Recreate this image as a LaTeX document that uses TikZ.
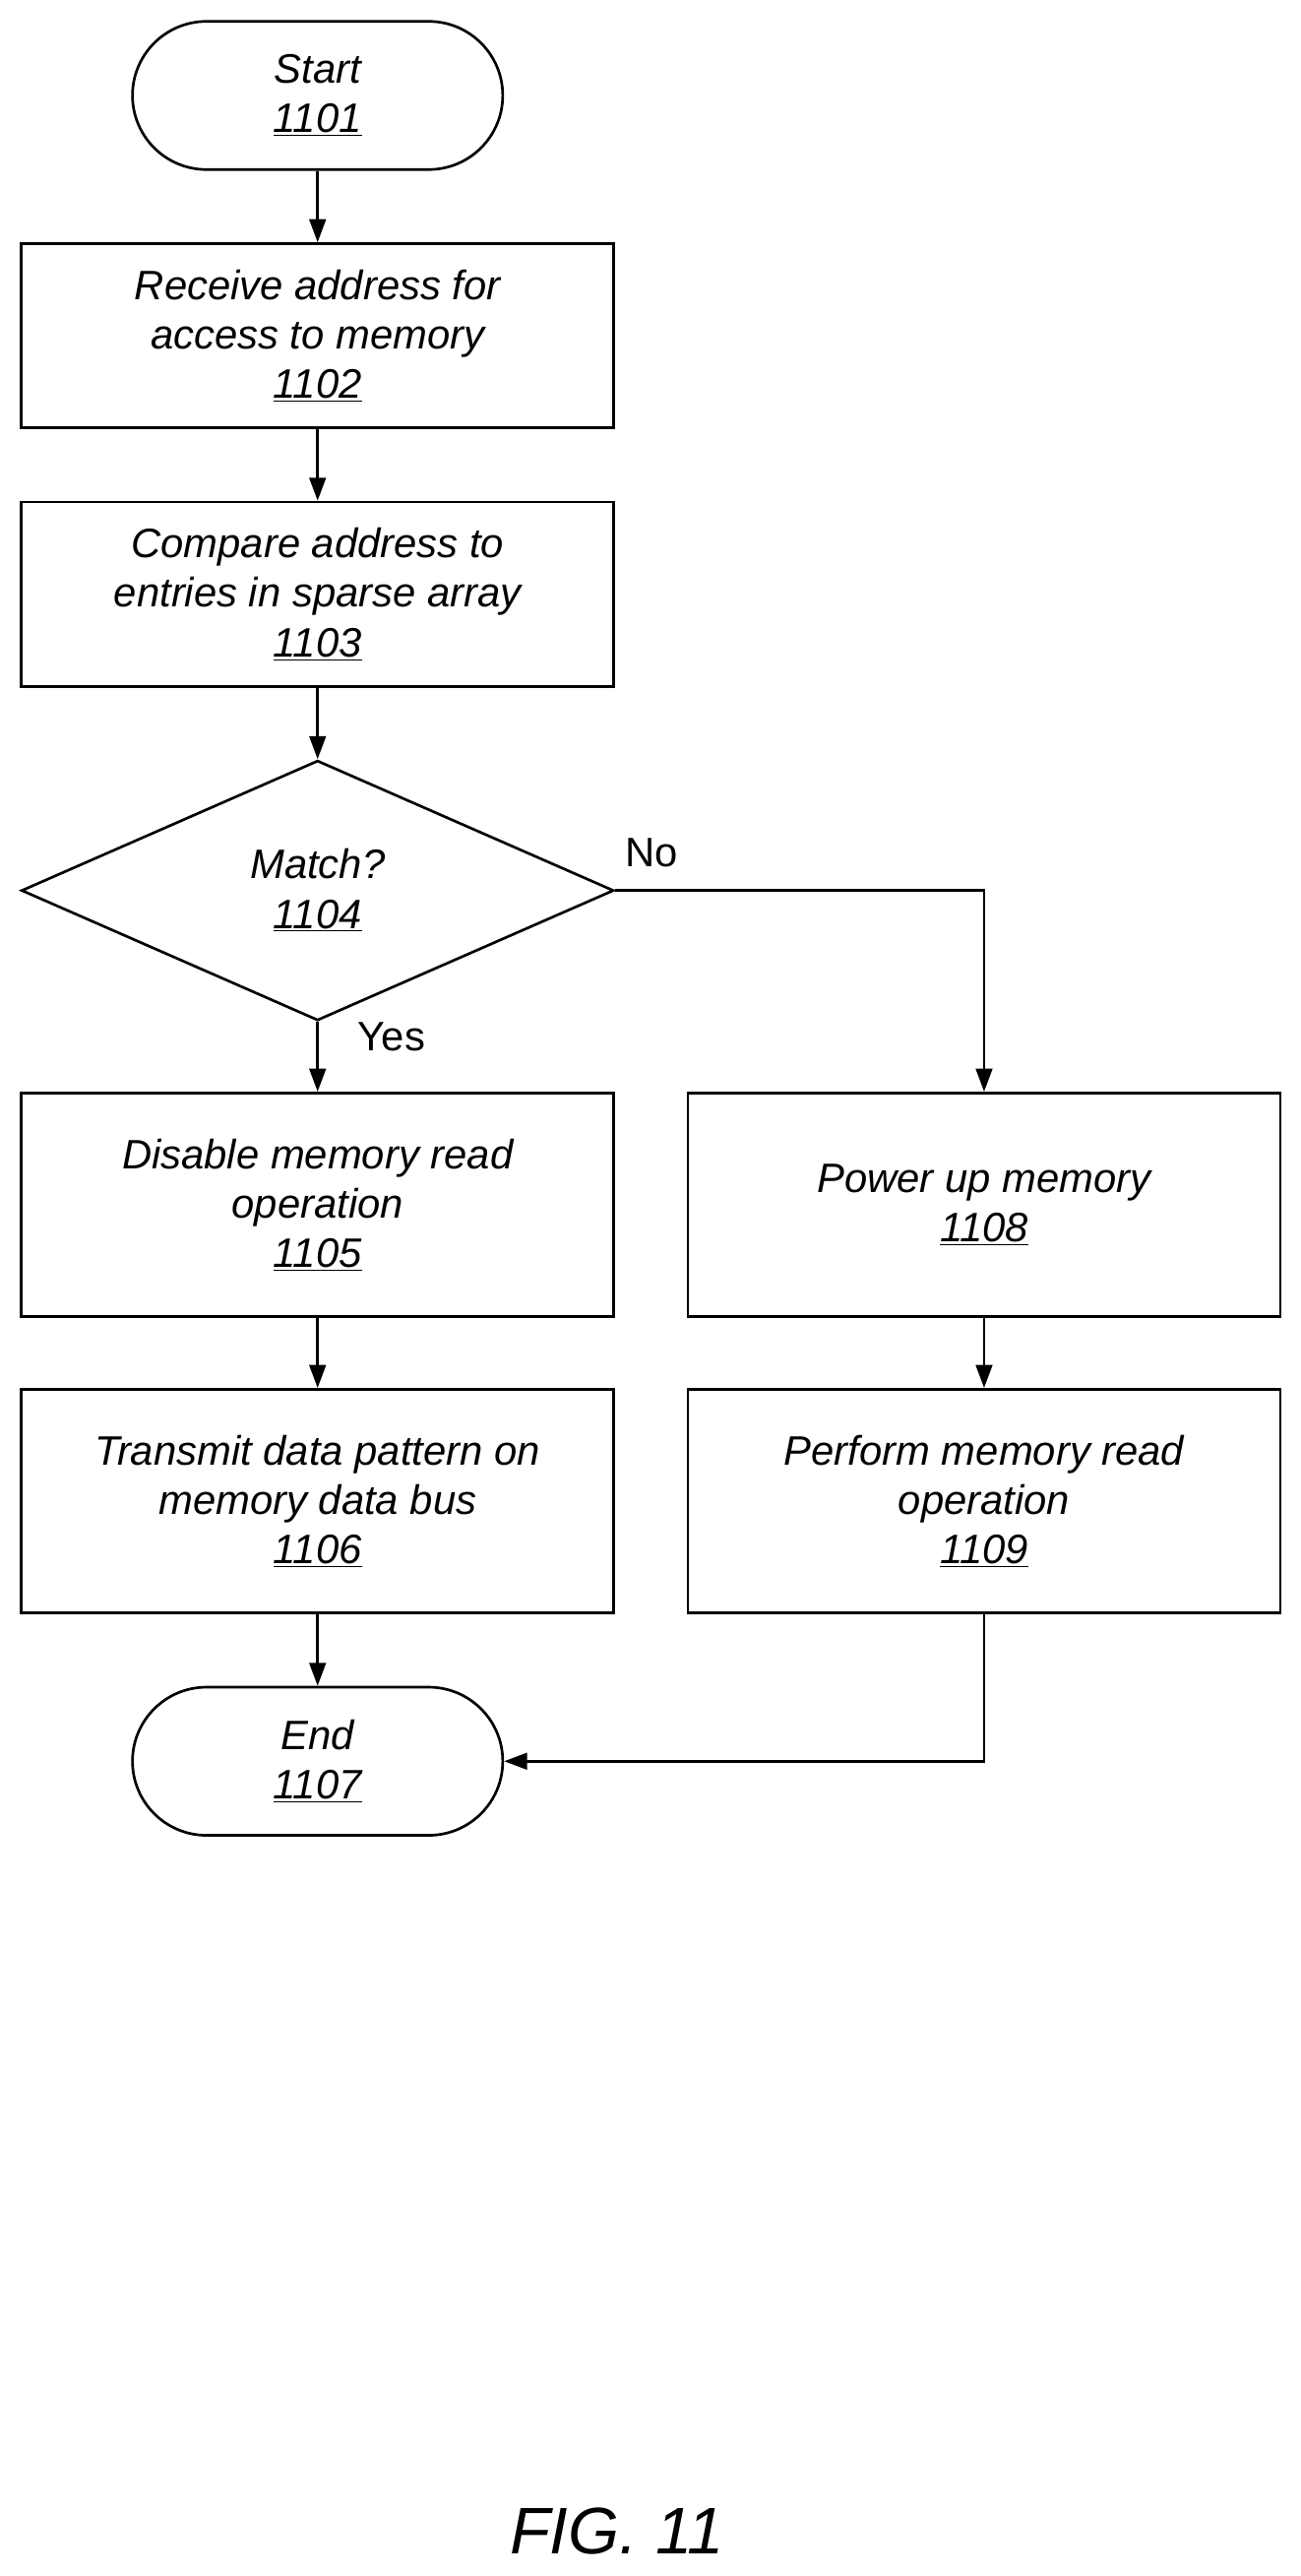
\documentclass[tikz,border=0pt]{standalone}
\usepackage{fontspec}
\setmainfont{Liberation Sans}
\usetikzlibrary{shapes.geometric,arrows.meta}
\begin{document}
\begin{tikzpicture}[x=1pt,y=-1pt,
  box/.style={draw,line width=1.6pt,minimum width=360pt,minimum height=112pt,align=center,font=\fontsize{25}{30}\selectfont\itshape,inner sep=0pt},
  term/.style={draw,line width=1.6pt,rounded corners=45pt,minimum width=225pt,minimum height=90pt,align=center,font=\fontsize{25}{30}\selectfont\itshape,inner sep=0pt},
  dia/.style={draw,line width=1.6pt,diamond,aspect=2.28,minimum width=360pt,minimum height=158pt,align=center,font=\fontsize{25}{30}\selectfont\itshape,inner sep=0pt},
  lab/.style={font=\fontsize{25}{30}\selectfont},
  arr/.style={line width=1.6pt,-{Triangle[length=14pt,width=10pt]}}]
\useasboundingbox (0,0) rectangle (790,1565);
\node[term] (s) at (193,58) {Start\\\underline{1101}};
\node[box] (b2) at (193,204) {Receive address for\\access to memory\\\underline{1102}};
\node[box] (b3) at (193,361) {Compare address to\\entries in sparse array\\\underline{1103}};
\node[dia] (d) at (193,541) {Match?\\\underline{1104}};
\node[box,minimum height=136pt] (b5) at (193,732) {Disable memory read\\operation\\\underline{1105}};
\node[box,minimum height=136pt] (b6) at (193,912) {Transmit data pattern on\\memory data bus\\\underline{1106}};
\node[term] (e) at (193,1070) {End\\\underline{1107}};
\node[box,minimum height=136pt] (b8) at (598,732) {Power up memory\\\underline{1108}};
\node[box,minimum height=136pt] (b9) at (598,912) {Perform memory read\\operation\\\underline{1109}};
\node[lab] (no) at (396,518) {No};
\node[lab] (yes) at (238,630) {Yes};
\node[font=\fontsize{40}{48}\selectfont\itshape] (fig) at (375,1538) {FIG. 11};
\draw[arr] (s) -- (b2);
\draw[arr] (b2) -- (b3);
\draw[arr] (b3) -- (d);
\draw[arr] (d) -- (b5);
\draw[arr] (d.east) -| (b8.north);
\draw[arr] (b5) -- (b6);
\draw[arr] (b6) -- (e);
\draw[arr] (b8) -- (b9);
\draw[arr] (b9.south) |- (e.east);
\end{tikzpicture}
\end{document}
